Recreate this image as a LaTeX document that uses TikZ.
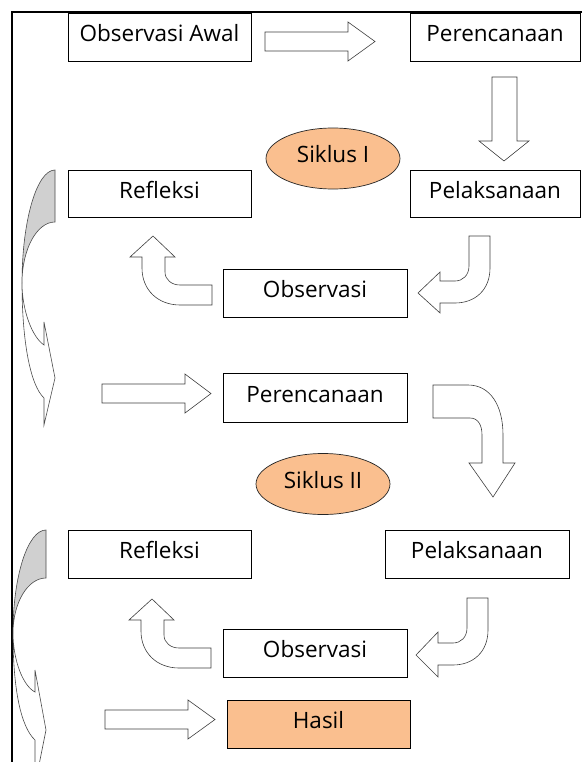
\documentclass[tikz,border=0pt]{standalone}
\usepackage{fontspec}
\setmainfont{Open Sans}
\usetikzlibrary{shapes.geometric}
\definecolor{peach}{RGB}{250,191,143}
\definecolor{backshade}{RGB}{208,208,208}
\begin{document}
\begin{tikzpicture}[x=1pt,y=-1pt,
  lbl/.style={font=\fontsize{22.5}{26}\selectfont, text height=16pt, text depth=7pt},
  box/.style={lbl, draw=black, line width=0.8pt, fill=white, minimum height=48pt, inner sep=0pt},
  oval/.style={lbl, ellipse, draw=black!85, line width=0.7pt, fill=peach, minimum width=134pt, minimum height=61pt, inner sep=0pt},
  barrow/.style={draw=black!75, fill=white, line width=0.6pt, line join=miter},
  curlback/.style={draw=black!70, fill=backshade, line width=0.6pt},
  curlfront/.style={draw=black!70, fill=white, line width=0.6pt, line join=miter},
  frame/.style={draw=black, line width=1.3pt}]
\fill[white] (0,0) rectangle (582,762);
\useasboundingbox (0,0) rectangle (582,762);
\clip (0,0) rectangle (582,762);

% frame
\coordinate (fr1) at (582,12);
\coordinate (fr2) at (12,12);
\coordinate (fr3) at (12,762);
\draw[frame] (fr1) -- (fr2) -- (fr3);

% boxes
\node[box, minimum width=183pt] (obsawal) at (159.5,37) {Observasi Awal};
\node[box, minimum width=170pt] (per1) at (495,37) {Perencanaan};
\node[box, minimum width=170pt, minimum height=47pt] (pel1) at (495,193.5) {Pelaksanaan};
\node[box, minimum width=183pt, minimum height=47pt] (ref1) at (159.5,193.5) {Refleksi};
\node[box, minimum width=184pt] (obs1) at (315,293) {Observasi};
\node[box, minimum width=184pt, minimum height=49pt] (per2) at (315,397.5) {Perencanaan};
\node[box, minimum width=183pt] (ref2) at (159.5,554) {Refleksi};
\node[box, minimum width=184pt] (pel2) at (477,554) {Pelaksanaan};
\node[box, minimum width=184pt] (obs2) at (315,653) {Observasi};
\node[box, fill=peach, minimum width=183pt] (hasil) at (318.5,724) {Hasil};

\node[oval] (sik1) at (333,158.5) {Siklus I};
\node[oval] (sik2) at (323,484) {Siklus II};

% straight block arrows
\draw[barrow] (265,32) -- (348,32) -- (348,22) -- (375,41.5) -- (348,61) -- (348,51) -- (265,51) -- cycle;
\draw[barrow] (492,77) -- (517,77) -- (517,141) -- (529,141) -- (504,161) -- (479,141) -- (492,141) -- cycle;
\draw[barrow] (102,384) -- (185,384) -- (185,374) -- (211,393.5) -- (185,413) -- (185,403) -- (102,403) -- cycle;
\draw[barrow] (105,710) -- (188,710) -- (188,700) -- (215,719.5) -- (188,739) -- (188,729) -- (105,729) -- cycle;

% bent arrows: Pelaksanaan -> Observasi
\draw[barrow] (469,236) -- (490,236) -- (490,268) .. controls (490,290) and (475,303) .. (455,303) -- (440,303) -- (440,313) -- (418,293) -- (440,272) -- (440,281) -- (455,281) .. controls (463,281) and (469,275) .. (469,266) -- cycle;
\begin{scope}[shift={(-2,362)}]
\draw[barrow] (469,236) -- (490,236) -- (490,268) .. controls (490,290) and (475,303) .. (455,303) -- (440,303) -- (440,315) -- (418,293) -- (440,270) -- (440,281) -- (455,281) .. controls (463,281) and (469,275) .. (469,266) -- cycle;
\end{scope}

% bent arrows: Observasi -> Refleksi
\draw[barrow] (212,305) -- (180,305) .. controls (158,305) and (142,290) .. (142,268) -- (142,257) -- (130,257) -- (153,236) -- (175,257) -- (165,257) -- (165,272) .. controls (165,280) and (172,285) .. (180,285) -- (212,285) -- cycle;
\begin{scope}[shift={(-1,363)}]
\draw[barrow] (212,305) -- (180,305) .. controls (158,305) and (142,290) .. (142,268) -- (142,257) -- (130,257) -- (153,236) -- (175,257) -- (165,257) -- (165,272) .. controls (165,280) and (172,285) .. (180,285) -- (212,285) -- cycle;
\end{scope}

% curved arrow: Perencanaan II -> Pelaksanaan II
\draw[barrow] (433,385) -- (468,385) .. controls (490,385) and (503,405) .. (503,435) -- (503,463) -- (515,463) -- (493,497) -- (469,463) -- (482,463) -- (482,435) .. controls (482,425) and (478,418) .. (470,418) -- (433,418) -- cycle;

% left curved arrows (cycle return)
\draw[curlback] (55,170) .. controls (36.8,170) and (22,220.6) .. (22,283) .. controls (22,249.3) and (36.8,222) .. (55,222) -- cycle;
\draw[curlfront] (22,283) .. controls (22,310) and (32,337) .. (44,345) -- (44,322) -- (55,378) -- (44,425) -- (44,398) .. controls (30,385) and (22,340) .. (22,283) -- cycle;

\draw[curlback] (46,530) .. controls (27.8,530) and (13,576) .. (13,633) .. controls (13,602.6) and (27.8,578) .. (46,578) -- cycle;
\draw[curlfront] (13,633) .. controls (13,660) and (23,686) .. (35,692) -- (35,670) -- (46,730) -- (35,785) -- (35,740) .. controls (21,727) and (13,690) .. (13,633) -- cycle;
\end{tikzpicture}
\end{document}
